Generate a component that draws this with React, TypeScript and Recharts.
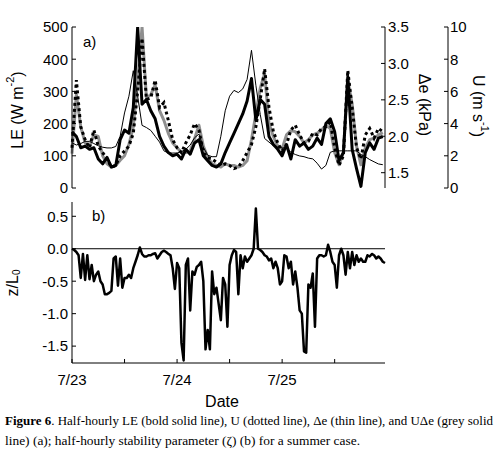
import { ComposedChart, LineChart, Line, XAxis, YAxis, ReferenceLine } from "recharts";

const FONT = "'Liberation Sans', Arial, Helvetica, sans-serif";
const SERIF = "'Liberation Serif', 'Times New Roman', serif";

// Panel a) — hourly samples, 7/23 00:00 .. 7/25 23:00
const TOP_STEP_H = 1;
// LE, W m-2 (bold solid line)
const LE = [
  175, 160, 125, 130, 120, 125, 90, 75, 95, 65,
  70, 150, 180, 170, 250, 500, 260, 275, 240, 215,
  160, 130, 110, 100, 105, 90, 120, 105, 140, 150,
  100, 85, 70, 65, 75, 110, 140, 170, 200, 230,
  270, 340, 210, 275, 260, 160, 135, 120, 100, 135,
  90, 150, 130, 140, 120, 130, 155, 135, 200, 215,
  175, 85, 110, 345, 120, 60, 5, 110, 140, 120,
  155, 160,
];
// U, m s-1 (dotted line)
const U = [
  2.5, 6.7, 3.8, 3.0, 2.5, 3.6, 2.6, 2.2, 1.8, 1.3,
  1.4, 2.0, 2.3, 2.6, 3.4, 6.0, 9.3, 5.5, 5.6, 6.7,
  5.0, 5.3, 4.2, 3.0, 2.5, 2.2, 2.8, 3.3, 4.0, 3.6,
  2.2, 1.9, 1.8, 1.6, 1.4, 1.5, 1.4, 1.2, 1.3, 1.7,
  2.2, 2.7, 3.8, 5.5, 7.4, 5.0, 3.5, 2.8, 2.3, 2.7,
  3.6, 3.9, 3.3, 2.8, 2.9, 3.4, 3.3, 3.7, 3.8, 4.1,
  2.5, 1.4, 2.0, 7.3, 5.0, 2.5, 1.8, 3.3, 3.7, 3.1,
  3.7, 3.5,
];
// Δe, kPa (thin line)
const DE = [
  1.91, 1.88, 1.90, 1.93, 1.93, 1.90, 1.87, 1.85, 1.84, 1.84,
  1.86, 2.0, 2.32, 2.55, 2.90, 2.55, 2.15, 2.12, 2.08, 2.0,
  1.92, 1.80, 1.77, 1.77, 1.77, 1.79, 1.82, 1.88, 1.98, 2.03,
  1.85, 1.74, 1.72, 1.72, 2.0, 2.35, 2.55, 2.63, 2.6, 2.65,
  2.78, 3.18, 2.7, 2.3, 1.97, 1.92, 1.87, 1.85, 1.84, 1.84,
  1.78, 1.75, 1.73, 1.72, 1.70, 1.69, 1.63, 1.55, 1.60, 1.78,
  1.80, 1.80, 1.80, 1.80, 1.80, 1.80, 1.75, 1.72, 1.68, 1.65,
  1.62, 1.61,
];
// UΔe, drawn on the LE scale (grey solid line)
const UDE = [
  107, 290, 190, 140, 130, 165, 160, 100, 75, 65,
  70, 86, 100, 135, 190, 330, 500, 280, 290, 320,
  240, 210, 170, 140, 125, 110, 110, 115, 153, 195,
  130, 95, 75, 70, 65, 75, 70, 70, 65, 70,
  85, 150, 230, 310, 355, 200, 160, 130, 122, 165,
  178, 175, 160, 140, 150, 165, 170, 180, 195, 185,
  110, 72, 110, 335, 260, 130, 72, 125, 150, 155,
  165, 172,
];

// Panel b) — half-hourly stability parameter z/L0
const ZL_STEP_H = 0.5;
const ZL = [
  0.0, -0.02, -0.05, -0.1, -0.45, -0.08, -0.48, -0.1, -0.47, -0.25,
  -0.5, -0.4, -0.35, -0.5, -0.55, -0.7, -0.7, -0.68, -0.65, -0.15,
  -0.12, -0.57, -0.15, -0.6, -0.45, -0.45, -0.4, -0.45, -0.3, -0.2,
  -0.1, 0.02, -0.08, -0.12, -0.12, -0.1, -0.1, -0.08, -0.07, -0.15,
  -0.1, -0.05, -0.03, -0.05, -0.08, -0.1, -0.3, -0.62, -0.22, -0.3,
  -1.45, -1.72, -0.25, -0.15, -0.95, -0.35, -0.4, -0.28, -0.25, -0.2,
  -0.5, -1.55, -1.25, -1.55, -0.35, -0.7, -0.6, -0.85, -1.1, -0.45,
  -0.55, -1.2, -0.25, -0.1, -0.02, -0.05, -0.7, -0.1, -0.3, -0.12,
  -0.2, -0.15, -0.1, 0.0, 0.62, 0.0, -0.02, -0.05, -0.1, -0.12,
  -0.18, -0.15, -0.3, -0.2, -0.3, -0.55, -0.5, -0.1, -0.12, -0.3,
  -0.2, -0.55, -0.35, -0.6, -0.95, -1.0, -1.58, -1.6, -0.55, -0.6,
  -0.38, -1.2, -0.15, -0.1, -0.1, -0.12, -0.1, 0.06, -0.05, -0.2,
  -0.25, -0.6, -0.1, 0.0, -0.1, -0.4, -0.05, -0.3, -0.05, -0.25,
  -0.1, -0.2, -0.15, -0.2, -0.2, -0.1, -0.12, -0.08, -0.1, -0.15,
  -0.12, -0.15, -0.2, -0.22,
];

const TIME_DOMAIN = [0, 71.5];
const HALF_DAY_TICKS = [0, 12, 24, 36, 48, 60];
const DATE_LABELS: Record<number, string> = { 0: "7/23", 24: "7/24", 48: "7/25" };
const LE_TICKS = [0, 100, 200, 300, 400, 500];
const DE_TICKS = [1.5, 2, 2.5, 3, 3.5];
const U_TICKS = [0, 2, 4, 6, 8, 10];
const ZL_TICKS = [-1.5, -1, -0.5, 0, 0.5];

const topData = LE.map((le, i) => ({ t: i * TOP_STEP_H, le, u: U[i], de: DE[i], ude: UDE[i] }));
const zlData = ZL.map((z, i) => ({ t: i * ZL_STEP_H, z }));

const AXIS = { stroke: "#000", strokeWidth: 1 };
const TICK = { fill: "#000", fontSize: 15, fontFamily: FONT };
const blank = () => "";

export default function App() {
  return (
    <div style={{ position: "absolute", left: 0, top: 0, width: 496, height: 470, background: "#fff" }}>
      <div style={{ position: "absolute", left: 0, top: 0 }}>
        <ComposedChart width={496} height={200} data={topData} margin={{ top: 27, right: 0, bottom: 12, left: 0 }}>
          <XAxis xAxisId="b" dataKey="t" type="number" domain={TIME_DOMAIN} ticks={HALF_DAY_TICKS}
            tickFormatter={blank} tickSize={-4} height={0} axisLine={AXIS} tickLine={AXIS} />
          <XAxis xAxisId="t" orientation="top" dataKey="t" type="number" domain={TIME_DOMAIN} ticks={HALF_DAY_TICKS}
            tickFormatter={blank} tickSize={-4} height={0} axisLine={AXIS} tickLine={AXIS} />
          <YAxis yAxisId="le" width={72} domain={[0, 500]} ticks={LE_TICKS} allowDataOverflow
            tickSize={-4} tickMargin={8} axisLine={AXIS} tickLine={AXIS} tick={TICK} />
          <YAxis yAxisId="de" orientation="right" width={63} domain={[1.29, 3.5]} ticks={DE_TICKS} allowDataOverflow
            tickFormatter={(v: number) => v.toFixed(1)} tickSize={-4} tickMargin={7} axisLine={AXIS} tickLine={AXIS} tick={TICK} />
          <YAxis yAxisId="u" orientation="right" width={48} domain={[0, 10]} ticks={U_TICKS} allowDataOverflow
            tickSize={-4} tickMargin={6} axisLine={AXIS} tickLine={AXIS} tick={TICK} />
          <Line xAxisId="b" yAxisId="le" dataKey="ude" stroke="#8f8f8f" strokeWidth={3} dot={false} isAnimationActive={false} strokeLinejoin="round" />
          <Line xAxisId="b" yAxisId="de" dataKey="de" stroke="#000" strokeWidth={1} dot={false} isAnimationActive={false} />
          <Line xAxisId="b" yAxisId="u" dataKey="u" stroke="#000" strokeWidth={3} strokeDasharray="3 3" dot={false} isAnimationActive={false} />
          <Line xAxisId="b" yAxisId="le" dataKey="le" stroke="#000" strokeWidth={3} dot={false} isAnimationActive={false} strokeLinejoin="round" />
        </ComposedChart>
      </div>

      <div style={{ position: "absolute", left: 0, top: 190 }}>
        <LineChart width={496} height={225} data={zlData} margin={{ top: 12, right: 111, bottom: 0, left: 0 }}>
          <XAxis xAxisId="b" dataKey="t" type="number" domain={TIME_DOMAIN} ticks={HALF_DAY_TICKS}
            tickFormatter={(v: number) => DATE_LABELS[v] ?? ""} tickSize={-4} tickMargin={15} height={52}
            axisLine={AXIS} tickLine={AXIS} tick={TICK} />
          <XAxis xAxisId="t" orientation="top" dataKey="t" type="number" domain={TIME_DOMAIN} ticks={HALF_DAY_TICKS}
            tickFormatter={blank} tickSize={-4} height={0} axisLine={AXIS} tickLine={AXIS} />
          <YAxis yAxisId="l" width={72} domain={[-1.76, 0.72]} ticks={ZL_TICKS} allowDataOverflow
            tickFormatter={(v: number) => v.toFixed(1)} tickSize={-4} tickMargin={8} axisLine={AXIS} tickLine={AXIS} tick={TICK} />
          <YAxis yAxisId="r" orientation="right" width={0} domain={[-1.76, 0.72]} ticks={ZL_TICKS} allowDataOverflow
            tickFormatter={blank} tickSize={-4} axisLine={AXIS} tickLine={AXIS} />
          <ReferenceLine xAxisId="b" yAxisId="l" y={0} stroke="#000" strokeWidth={1} />
          <Line xAxisId="b" yAxisId="l" dataKey="z" stroke="#000" strokeWidth={2.5} dot={false} isAnimationActive={false} strokeLinejoin="round" />
        </LineChart>
      </div>

      <svg width={496} height={470} style={{ position: "absolute", left: 0, top: 0, pointerEvents: "none" }}>
        <g fontFamily={FONT} fill="#000">
          <text x={83} y={47} fontSize={15}>a)</text>
          <text x={92} y={221} fontSize={15}>b)</text>
          <text x={17} y={110} fontSize={16} textAnchor="middle" dominantBaseline="central" transform="rotate(-90 17 110)">
            LE (W m<tspan fontSize={11} dy={-7}>-2</tspan><tspan dy={7}>)</tspan>
          </text>
          <text x={424} y={105} fontSize={16} textAnchor="middle" dominantBaseline="central" transform="rotate(90 424 105)">
            Δe (kPa)
          </text>
          <text x={478} y={106} fontSize={16} textAnchor="middle" dominantBaseline="central" transform="rotate(90 478 106)">
            U (m s<tspan fontSize={11} dy={-7}>-1</tspan><tspan dy={7}>)</tspan>
          </text>
          <text x={12} y={283} fontSize={16} textAnchor="middle" dominantBaseline="central" transform="rotate(-90 12 283)">
            z/L<tspan fontSize={10} dy={4}>0</tspan>
          </text>
          <text x={222} y={407} fontSize={16} textAnchor="middle">Date</text>
        </g>
        <g fontFamily={SERIF} fill="#000" fontSize={13}>
          <text x={5} y={425} textLength={488} lengthAdjust="spacingAndGlyphs">
            <tspan fontWeight="bold">Figure 6</tspan>. Half-hourly LE (bold solid line), U (dotted line), Δe (thin line), and UΔe (grey solid
          </text>
          <text x={5} y={445} textLength={355} lengthAdjust="spacingAndGlyphs">
            line) (a); half-hourly stability parameter (ζ) (b) for a summer case.
          </text>
        </g>
      </svg>
    </div>
  );
}
